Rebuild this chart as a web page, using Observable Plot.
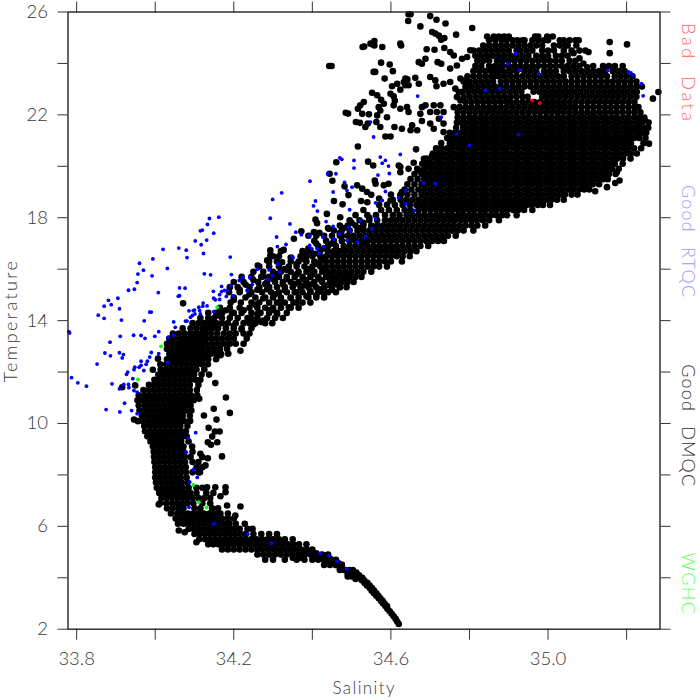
<!DOCTYPE html>
<html><head><meta charset="utf-8">
<style>
html,body{margin:0;padding:0;background:#fff}
svg{display:block}
.wide text{letter-spacing:1.4px}
.wider text{letter-spacing:2.4px}
.legendA text{letter-spacing:2.6px;word-spacing:8px}
.legendB text{letter-spacing:1.2px;word-spacing:8px}
</style>
<script src="https://cdn.jsdelivr.net/npm/d3@7"></script>
<script src="https://cdn.jsdelivr.net/npm/@observablehq/plot@0.6"></script>
</head><body><div id="c"></div>
<script>
const xTicks=[33.8,34.2,34.6,35.0];
const xMinor=[34.0,34.4,34.8,35.2];
const yTicks=[2,6,10,14,18,22,26];
const yMinor=[4,8,12,16,20,24];

const redBad=[[34.96,22.56],[34.979,22.46]];
const greenWGHC=[[34.158,14.52],[33.956,11.71],[34.097,7.61],[34.131,6.74],[34.111,6.94],[34.015,13.0]];
const blueRTQC=[[33.78,13.57],[33.782,13.52],[33.855,14.21],[33.87,14.09],[33.87,14.56],[33.881,14.79],[33.888,14.62],[33.905,14.87],[33.909,14.46],[33.914,14.02],[33.911,13.39],[33.885,13.16],[33.945,13.43],[33.964,13.42],[33.974,13.31],[33.999,13.39],[34.009,13.57],[33.972,13.99],[33.986,14.33],[33.99,14.33],[33.932,15.18],[33.947,15.22],[33.954,15.48],[33.956,15.81],[33.96,16.23],[33.97,15.96],[33.992,15.74],[33.994,16.4],[34.008,15.09],[34.02,16.77],[34.031,16.03],[34.059,14.95],[34.062,14.97],[34.062,15.27],[34.076,15.26],[34.06,16.82],[34.079,16.74],[34.081,16.45],[34.102,17.1],[34.117,16.95],[34.123,16.61],[34.131,17.13],[34.115,17.49],[34.12,17.52],[34.133,17.74],[34.138,17.97],[34.149,17.4],[34.162,18.02],[34.125,15.82],[34.141,15.78],[34.191,16.47],[34.194,15.79],[34.148,15.14],[34.169,15.33],
[34.047,13.95],[34.051,13.74],[34.047,13.44],[34.033,13.35],[34.077,13.98],[34.081,13.98],[34.086,14.38],[34.097,14.39],[34.1,14.41],[34.09,14.13],[34.095,14.2],[34.101,14.26],[34.111,14.52],[34.113,14.39],[34.115,14.26],[34.122,14.68],[34.121,14.56],[34.132,14.57],[34.149,14.35],[34.149,14.87],[34.153,14.81],[34.164,14.82],[34.164,15.01],[34.169,15.13],[34.176,15.17],[34.183,15.17],[34.181,14.94],[34.198,14.96],[34.192,15.36],
[34.293,17.98],[34.299,18.71],[34.322,18.97],[34.309,17.25],[34.311,16.88],[34.343,17.76],[34.358,17.44],[34.372,17.34],[34.333,16.96],[34.349,16.5],[34.351,16.44],[34.26,16.0],[34.29,15.97],[34.287,15.6],[34.298,15.75],[34.312,16.2],[34.317,15.88],[34.222,15.69],[34.214,15.56],[34.241,15.69],[34.247,15.4],[34.234,15.17],
[34.394,19.42],[34.403,18.46],[34.408,18.65],[34.413,18.26],[34.392,17.3],[34.393,16.92],[34.399,16.79],[34.412,16.79],[34.417,16.62],[34.427,17.25],[34.435,17.85],[34.429,16.88],[34.453,19.0],[34.439,19.71],[34.46,19.71],[34.47,20.33],[34.475,20.27],[34.482,19.37],[34.488,19.06],[34.495,18.31],[34.454,17.17],[34.453,17.66],[34.47,17.37],[34.488,17.12],[34.492,17.63],
[33.787,11.78],[33.803,11.58],[33.825,11.45],[33.852,12.31],[33.872,12.74],[33.886,12.63],[33.909,12.75],[33.919,12.68],[33.916,12.55],[33.89,11.54],[33.909,11.35],[33.92,11.52],[33.932,11.52],[33.933,11.39],[33.943,11.74],[33.927,11.91],[33.93,12.0],[33.946,12.09],[33.948,12.19],[33.959,12.19],[33.964,12.26],[33.964,12.42],[33.977,12.3],[33.98,12.42],[33.971,12.06],[33.986,12.58],[33.99,12.76],[34.009,12.71],[34.032,12.37],[33.922,10.79],[33.875,10.54],[33.91,10.45],[33.94,10.5],[33.946,11.28],[33.954,11.22],[33.954,10.38],[34.103,9.64],[34.084,9.43],[34.079,8.88],[34.097,8.2],[34.088,7.72],[34.107,7.9],[34.086,6.74],[34.149,6.1],[34.236,5.7],[34.296,5.34],[34.42,4.95],[34.442,4.86],[34.463,4.64],[34.488,4.34],
[34.668,22.73],[35.205,23.67],[35.211,23.63],[35.216,23.54],[35.238,23.21],[35.242,22.74],[35.152,23.73],[34.976,23.6],[34.928,23.73],[34.898,23.99],[34.917,24.38],[34.624,20.46],[34.573,20.36],[34.586,20.23],[34.578,20.12],[34.594,20.01],[34.596,19.72],[34.506,20.23],[34.506,19.93],[34.567,19.66],[34.548,21.72],[34.556,21.14],[34.638,19.05],[34.586,19.02],[34.501,19.19],[34.561,18.58],[34.578,18.67],[34.62,18.78],[34.637,18.54],[34.66,18.28],[34.684,19.35],[34.713,19.32],[34.497,17.5],[34.536,17.27],[34.514,17.05],[34.522,17.89],[34.561,17.96],[34.552,17.57],[34.8,20.81],[34.767,21.27],[34.728,21.91],[34.925,21.23],[34.84,22.95],[34.878,23.02]];

const blackSparse=[[34.645,25.91],[34.644,25.65],[34.65,25.91],[34.7,25.84],[34.716,25.7],[34.739,25.55],[34.675,25.44],[34.807,25.38],[34.705,25.22],[34.713,25.16],[34.722,25.08],[34.736,24.99],[34.728,24.92],[34.766,25.12],[34.528,24.64],[34.532,24.66],[34.548,24.77],[34.558,24.87],[34.558,24.7],[34.552,24.75],[34.578,24.64],[34.624,24.77],[34.626,24.7],[34.691,24.55],[34.711,24.53],[34.736,24.6],[34.575,24.03],[34.597,23.96],[34.556,23.67],[34.56,23.67],[34.605,23.7],[34.584,23.41],[34.637,23.41],[34.642,23.38],[34.662,23.44],[34.671,23.21],[34.633,23.28],[34.616,23.21],[34.603,23.11],[34.624,22.98],[34.637,23.15],[34.645,23.15],[34.599,22.82],[34.607,22.72],[34.552,22.86],[34.565,22.76],[34.575,22.59],[34.582,22.43],[34.569,22.3],[34.531,22.5],[34.522,22.37],[34.516,22.24],[34.527,22.04],[34.544,22.02],[34.565,21.98],[34.573,22.17],[34.59,21.91],[34.511,21.72],[34.521,21.69],[34.535,21.53],[34.541,21.66],[34.563,21.72],[34.573,21.53],[34.609,21.53],[34.628,21.46],[34.586,21.16],[34.599,21.16],[34.516,20.77],[34.664,20.66],[34.607,22.37],[34.624,22.24],[34.641,22.3],[34.645,22.11],[34.61,22.55],[34.542,20.18],[34.555,20.03],[34.654,21.59],[34.65,21.4],[34.667,21.4],[34.679,22.3],[34.688,22.37],[34.675,22.04],[34.709,22.37],[34.726,22.37],[34.7,22.11],[34.717,22.11],[34.734,22.11],[34.679,21.76],[34.7,21.66],[34.722,21.85],[34.734,21.66],[34.709,21.46],[34.734,21.33],[34.751,21.14],[34.671,24.05],[34.679,23.99],[34.688,24.18],[34.719,24.05],[34.728,23.99],[34.751,24.44],[34.76,24.31],[34.751,23.8],[34.768,23.92],[34.781,24.18],[34.794,24.25],[34.802,24.51],[34.7,23.47],[34.713,23.34],[34.716,23.11],[34.734,23.21],[34.751,23.28],[34.764,23.02],[34.777,23.41],[34.79,23.34],[34.794,23.08],[34.773,22.89],[34.768,22.69],[34.777,22.56],[34.76,22.3],
[35.157,24.83],[35.201,24.74],[35.157,24.4],[35.103,24.44],[35.281,22.89],[35.267,22.63],[35.257,20.88],[35.247,21.78],[35.175,19.77],[35.171,19.35],[35.182,19.45],[35.15,19.19],[35.12,19.03],[35.133,19.51],[35.239,23.1],
[34.443,23.9],[34.449,23.9],[34.485,22.08],[34.491,22.05],[34.461,20.16],[34.444,19.71],[34.451,19.44],[34.455,18.65],[34.477,18.52],[34.482,19.22],[34.492,18.88],[34.437,18.15],[34.471,18.02],[34.408,17.93],[34.412,17.79],[34.372,17.47],[34.353,17.18],[34.404,17.44],[34.418,17.41],[34.442,17.57],[34.327,16.75],[34.293,16.73],[34.293,16.53],[34.285,16.34],[34.261,16.14],[34.323,16.27],[34.514,19.26],[34.527,19.13],[34.539,19.0],[34.55,18.89],[34.524,18.65],[34.559,19.45],[34.561,19.32],[34.624,19.97],[34.624,19.77],[34.645,19.9],[34.671,19.84],[34.594,19.32],[34.628,19.0],[34.624,18.87],[34.599,18.67],[34.582,19.26],[34.658,20.14],[34.684,20.29],[34.705,20.42],[34.722,20.62],[34.751,20.75],[34.62,20.03],[34.071,14.67],
[34.153,11.57],[34.18,11.01],[34.112,10.96],[34.149,10.57],[34.19,10.41],[34.124,10.31],[34.156,10.15],[34.136,9.83],[34.164,9.69],[34.152,9.69],[34.145,9.49],[34.158,9.27],[34.134,9.27],[34.142,9.17],[34.17,8.72],[34.134,8.65],[34.115,8.82],[34.12,8.69],[34.128,8.37],[34.12,8.3],[34.114,8.1],[34.179,7.52],[34.153,7.52],[34.132,7.52],[34.166,7.17],[34.179,7.33],[34.217,6.77],[34.183,6.81],[34.204,6.42],[34.06,5.84],[34.075,5.77],[34.105,5.38],[34.009,6.85],[33.946,10.15],[33.956,10.09],[33.916,11.41],[33.949,11.48],[33.994,12.09],[34.007,12.52],[34.137,11.9],[34.186,12.71],[34.166,12.65],[34.217,12.83]];

const blackBandFill=[[34.2,14.8],[34.215,15.2],[34.24,15.02],[34.255,14.62],[34.275,14.86],[34.285,15.22],[34.3,14.42],[34.305,15.02],[34.32,14.72],[34.33,15.18],[34.34,14.52],[34.345,14.88],[34.36,15.1],[34.36,14.7],[34.375,15.35],[34.385,14.95],[34.395,15.15],[34.4,15.42],[34.41,14.98],[34.42,15.22],[34.43,15.05],[34.44,15.38],[34.45,15.2],[34.46,15.42],[34.47,15.3],[34.485,15.52],[34.26,15.2],[34.23,15.4],[34.25,15.58],[34.28,15.42],[34.275,15.72],[34.3,15.62],[34.325,15.42],[34.31,15.82],[34.335,15.62],[34.355,15.42],[34.335,15.98],[34.36,15.8],[34.38,15.6],[34.4,15.78],[34.42,15.6],[34.39,16.0],[34.41,16.2],[34.44,15.8],[34.43,16.0],[34.455,15.6],[34.47,15.85],[34.49,15.75],[34.36,16.2],[34.38,16.38],[34.33,16.0],[34.345,16.45],[34.38,16.6],[34.405,16.6],[34.43,16.4],[34.39,16.8],[34.41,17.0],[34.43,16.8],[34.46,16.6],[34.45,17.0],[34.475,17.3],[34.5,17.2],[34.53,17.0],[34.47,17.4],[34.44,17.6],[34.48,17.6],[34.52,17.6],[34.5,17.8],[34.53,17.8],[34.545,18.0],[34.51,18.1],[34.53,18.3],[34.57,18.5],[34.6,18.9],[34.54,18.6],[34.57,18.75],[34.14,14.02],[34.16,14.2],[34.18,14.4],[34.2,14.3],[34.225,14.4],[34.245,14.08],[34.26,14.25],[34.275,14.0],[34.29,14.4],[34.31,14.25],[34.2,13.8],[34.22,13.65],[34.24,13.9],[34.25,13.85],[34.27,13.95]];
const blackTailFill=[[34.49,4.15],[34.48,4.3],[34.47,4.4],[34.46,4.5],[34.45,4.6],[34.44,4.65],[34.43,4.72],[34.42,4.8],[34.41,4.8],[34.475,4.5],[34.465,4.58],[34.455,4.67],[34.445,4.75],[34.43,4.85],[34.41,4.95],[34.39,4.95],[34.37,4.78],[34.35,4.78],[34.37,5.0],[34.49,4.05],[34.5,4.05],[34.51,3.95]];
const blackMassFill=[[34.855,23.5],[34.845,23.3],[34.86,23.3],[34.865,23.5],[34.895,22.5],[34.905,22.5],[34.895,22.3],[34.88,22.3],[34.963,22.9],[34.848,20.9],[34.904,20.9],[35.044,22.3],[34.92,24.5],[34.92,24.3],[34.9,23.9],[34.92,23.7],[35.02,24.1],[35.02,23.9],[35.04,24.5],[35.045,24.7],[34.94,24.9],[35.015,24.7],[34.905,23.7],[34.885,23.9],[35.05,24.3],[35.065,24.4],[35.08,24.2],[35.09,24.0],[35.1,23.85],[35.115,23.9]];

const blackUpperRows=[
[25.05,34.845,34.862,34.875,34.888,34.9,34.967,34.975,34.998,35.012],
[24.9,34.85,34.866,34.882,34.895,34.91,34.922,34.935,34.96,34.975,34.99,35.0,35.03,35.04,35.055,35.07,35.078],
[24.7,34.835,34.85,34.865,34.88,34.895,34.91,34.925,34.94,34.955,34.97,34.985,35.03,35.05,35.072],
[24.5,34.81,34.825,34.84,34.855,34.87,34.885,34.9,34.93,34.945,34.96,34.985,35.0,35.015,35.06,35.08,35.095],
[24.3,34.815,34.83,34.845,34.86,34.875,34.89,34.905,34.935,34.95,34.97,34.985,35.0,35.02,35.035],
[24.1,34.82,34.835,34.85,34.87,34.885,34.9,34.915,34.93,34.945,34.96,34.975,34.99,35.005,35.035,35.055,35.07],
[23.9,34.815,34.83,34.85,34.865,34.88,34.915,34.93,34.945,34.96,34.975,34.99,35.005,35.035,35.05,35.065,35.08,35.14,35.155,35.17,35.19],
[23.7,34.81,34.825,34.84,34.855,34.87,34.885,34.9,34.94,34.955,34.97,34.99,35.005,35.02,35.04,35.055,35.07,35.085,35.1,35.115,35.13,35.145,35.165,35.18,35.195],
[23.5,34.795,34.81,34.825,34.84,34.875,34.89,34.905,34.92,34.935,34.95,34.965,34.98,34.995,35.01,35.025,35.04,35.06,35.075,35.09,35.105,35.12,35.135,35.15,35.17,35.185,35.2,35.215],
[23.3,34.785,34.8,34.815,34.83,34.88,34.895,34.91,34.925,34.94,34.955,34.97,34.985,35.0,35.015,35.03,35.045,35.06,35.075,35.09,35.105,35.12,35.135,35.15,35.165,35.18,35.195,35.21,35.225],
[23.1,34.79,34.805,34.82,34.835,34.85,34.865,34.88,34.895,34.91,34.925,34.94,34.955,34.97,34.985,35.0,35.015,35.03,35.045,35.06,35.075,35.09,35.105,35.12,35.135,35.15,35.165,35.18,35.195,35.21,35.225],
[22.9,34.782,34.797,34.812,34.827,34.842,34.857,34.872,34.887,34.902,34.917,34.932,34.978,34.993,35.008,35.023,35.038,35.053,35.068,35.083,35.098,35.113,35.128,35.143,35.158,35.173,35.188,35.203,35.218,35.226],
[22.7,34.785,34.8,34.815,34.83,34.845,34.86,34.875,34.89,34.905,34.92,34.935,34.948,34.985,35.0,35.015,35.03,35.045,35.06,35.075,35.09,35.105,35.12,35.135,35.15,35.165,35.18,35.195,35.21,35.225],
[22.5,34.79,34.805,34.82,34.835,34.85,34.865,34.88,34.92,34.935,34.95,34.965,34.98,34.995,35.01,35.025,35.04,35.055,35.07,35.085,35.1,35.115,35.13,35.145,35.16,35.175,35.19,35.205,35.22],
[22.3,34.775,34.79,34.805,34.82,34.835,34.85,34.865,34.91,34.925,34.94,34.955,34.97,34.985,35.0,35.015,35.03,35.058,35.07,35.085,35.1,35.115,35.13,35.145,35.16,35.175,35.19,35.205,35.22,35.23],
[22.1,34.77,34.785,34.8,34.815,34.83,34.845,34.86,34.875,34.89,34.905,34.92,34.935,34.95,34.965,34.98,34.995,35.01,35.025,35.04,35.055,35.07,35.085,35.1,35.115,35.13,35.145,35.16,35.175,35.19,35.205,35.22,35.235]];

const blackMassRows=[
[21.9,34.77,34.784,34.799,34.812,34.827,34.84,34.855,34.868,34.883,34.896,34.911,34.924,34.939,34.952,34.967,34.98,34.995,35.008,35.023,35.036,35.051,35.064,35.079,35.092,35.107,35.12,35.135,35.148,35.163,35.176,35.191,35.204,35.219,35.232,35.245],
[21.7,34.768,34.778,34.791,34.806,34.819,34.834,34.847,34.862,34.875,34.89,34.903,34.918,34.931,34.946,34.959,34.974,34.987,35.002,35.015,35.03,35.043,35.058,35.071,35.086,35.099,35.114,35.127,35.142,35.155,35.17,35.183,35.198,35.211,35.226,35.239,35.256],
[21.5,34.766,34.784,34.799,34.812,34.827,34.84,34.855,34.868,34.883,34.896,34.911,34.924,34.939,34.952,34.967,34.98,34.995,35.008,35.023,35.036,35.051,35.064,35.079,35.092,35.107,35.12,35.135,35.148,35.163,35.176,35.191,35.204,35.219,35.232,35.247,35.255],
[21.3,34.75,34.763,34.778,34.791,34.806,34.819,34.834,34.847,34.862,34.875,34.89,34.903,34.918,34.931,34.946,34.959,34.974,34.987,35.002,35.015,35.03,35.043,35.058,35.071,35.086,35.099,35.114,35.127,35.142,35.155,35.17,35.183,35.198,35.211,35.226,35.239,35.25],
[21.1,34.743,34.756,34.771,34.784,34.799,34.812,34.827,34.84,34.855,34.868,34.883,34.896,34.911,34.924,34.939,34.952,34.967,34.98,34.995,35.008,35.023,35.036,35.051,35.064,35.079,35.092,35.107,35.12,35.135,35.148,35.163,35.176,35.191,35.204,35.219,35.232,35.248],
[20.9,34.728,34.75,34.763,34.778,34.791,34.806,34.819,34.834,34.862,34.875,34.89,34.918,34.931,34.946,34.959,34.974,34.987,35.002,35.015,35.03,35.043,35.058,35.071,35.086,35.099,35.114,35.127,35.142,35.155,35.17,35.183,35.198,35.211,35.243],
[20.7,34.715,34.728,34.743,34.756,34.771,34.784,34.799,34.812,34.827,34.84,34.855,34.868,34.883,34.896,34.911,34.924,34.939,34.952,34.967,34.98,34.995,35.008,35.023,35.036,35.051,35.064,35.079,35.092,35.107,35.12,35.135,35.148,35.163,35.176,35.191,35.204,35.219,35.237],
[20.5,34.707,34.722,34.735,34.75,34.763,34.778,34.791,34.806,34.819,34.834,34.847,34.862,34.875,34.89,34.903,34.918,34.931,34.946,34.959,34.974,34.987,35.002,35.015,35.03,35.043,35.058,35.071,35.086,35.099,35.114,35.127,35.142,35.155,35.17,35.183,35.198,35.211,35.226],
[20.3,34.69,34.7,34.715,34.728,34.743,34.756,34.771,34.784,34.799,34.812,34.827,34.84,34.855,34.868,34.883,34.896,34.911,34.924,34.939,34.952,34.967,34.98,34.995,35.008,35.023,35.036,35.051,35.064,35.079,35.092,35.107,35.12,35.135,35.148,35.163,35.176,35.191,35.21],
[20.1,34.68,34.693,34.707,34.722,34.735,34.75,34.763,34.778,34.791,34.806,34.819,34.834,34.847,34.862,34.875,34.89,34.903,34.918,34.931,34.946,34.959,34.974,34.987,35.002,35.015,35.03,35.043,35.058,35.071,35.086,35.099,35.114,35.127,35.142,35.155,35.17,35.19],
[19.9,34.667,34.685,34.7,34.715,34.728,34.743,34.756,34.771,34.784,34.799,34.812,34.827,34.84,34.855,34.868,34.883,34.896,34.911,34.924,34.939,34.952,34.967,34.98,34.995,35.008,35.023,35.036,35.051,35.064,35.079,35.092,35.107,35.12,35.135,35.148,35.163,35.18],
[19.7,34.66,34.678,34.692,34.707,34.722,34.735,34.75,34.763,34.778,34.791,34.806,34.819,34.834,34.847,34.862,34.875,34.89,34.903,34.918,34.931,34.946,34.959,34.974,34.987,35.002,35.015,35.03,35.043,35.058,35.071,35.086,35.099,35.114,35.127,35.142,35.155,35.172],
[19.5,34.65,34.668,34.685,34.7,34.715,34.728,34.743,34.756,34.771,34.784,34.799,34.812,34.827,34.84,34.855,34.868,34.883,34.896,34.911,34.924,34.939,34.952,34.967,34.98,34.995,35.008,35.023,35.036,35.051,35.064,35.079,35.092,35.107,35.12,35.14,35.152],
[19.3,34.642,34.66,34.678,34.692,34.707,34.722,34.735,34.75,34.763,34.778,34.791,34.806,34.819,34.834,34.847,34.862,34.875,34.89,34.903,34.918,34.931,34.946,34.959,34.974,34.987,35.002,35.015,35.03,35.043,35.058,35.071,35.086,35.099,35.114,35.13],
[19.1,34.635,34.652,34.67,34.685,34.7,34.715,34.728,34.743,34.756,34.771,34.784,34.799,34.812,34.827,34.84,34.855,34.868,34.883,34.896,34.911,34.924,34.939,34.952,34.967,34.98,34.995,35.008,35.023,35.036,35.051,35.064,35.079,35.092,35.105],
[18.9,34.625,34.642,34.66,34.678,34.692,34.707,34.722,34.735,34.75,34.763,34.778,34.791,34.806,34.819,34.834,34.847,34.862,34.875,34.89,34.903,34.918,34.931,34.946,34.959,34.974,34.987,35.002,35.015,35.03,35.043,35.06,35.075],
[18.7,34.605,34.625,34.64,34.655,34.67,34.685,34.7,34.715,34.728,34.743,34.756,34.771,34.784,34.799,34.812,34.827,34.84,34.855,34.868,34.883,34.896,34.911,34.924,34.939,34.952,34.967,34.98,34.995,35.008,35.023,35.04],
[18.5,34.59,34.61,34.63,34.648,34.665,34.678,34.692,34.707,34.722,34.735,34.75,34.763,34.778,34.791,34.806,34.819,34.834,34.847,34.862,34.875,34.89,34.903,34.918,34.931,34.946,34.959,34.974,34.987,35.005],
[18.3,34.575,34.595,34.615,34.635,34.65,34.67,34.685,34.7,34.715,34.728,34.743,34.756,34.771,34.784,34.799,34.812,34.827,34.84,34.855,34.868,34.883,34.896,34.911,34.924,34.939,34.96],
[18.1,34.54,34.562,34.585,34.605,34.622,34.64,34.655,34.67,34.685,34.7,34.715,34.728,34.743,34.756,34.771,34.784,34.799,34.812,34.827,34.84,34.855,34.868,34.883,34.896,34.92],
[17.9,34.495,34.52,34.545,34.565,34.585,34.6,34.615,34.63,34.645,34.66,34.675,34.69,34.705,34.72,34.735,34.75,34.763,34.778,34.791,34.806,34.819,34.834,34.85,34.875],
[17.7,34.47,34.49,34.51,34.53,34.55,34.565,34.58,34.595,34.61,34.625,34.64,34.655,34.67,34.685,34.7,34.715,34.73,34.745,34.76,34.775,34.79,34.805,34.82,34.84],
[17.5,34.455,34.475,34.495,34.515,34.53,34.545,34.56,34.575,34.59,34.605,34.62,34.635,34.65,34.665,34.68,34.695,34.71,34.725,34.74,34.755,34.77,34.785,34.81],
[17.3,34.39,34.41,34.43,34.45,34.47,34.49,34.505,34.52,34.535,34.55,34.565,34.58,34.595,34.61,34.625,34.64,34.655,34.67,34.685,34.7,34.715,34.73,34.745,34.765],
[17.1,34.405,34.435,34.455,34.475,34.495,34.51,34.525,34.54,34.555,34.57,34.585,34.6,34.615,34.63,34.645,34.66,34.675,34.69,34.705,34.72,34.735],
[16.9,34.415,34.44,34.46,34.48,34.495,34.51,34.525,34.54,34.555,34.57,34.585,34.6,34.615,34.63,34.645,34.66,34.675,34.695],
[16.7,34.32,34.375,34.395,34.42,34.44,34.455,34.47,34.485,34.5,34.515,34.53,34.545,34.56,34.575,34.59,34.605,34.62,34.635,34.65,34.665],
[16.5,34.3,34.315,34.37,34.385,34.4,34.42,34.435,34.45,34.465,34.48,34.495,34.51,34.525,34.54,34.555,34.57,34.585,34.6,34.615,34.63,34.648],
[16.3,34.29,34.31,34.345,34.365,34.385,34.405,34.42,34.435,34.45,34.465,34.48,34.495,34.51,34.525,34.54,34.555,34.57,34.585,34.6,34.628],
[16.1,34.265,34.29,34.315,34.34,34.36,34.38,34.4,34.42,34.435,34.45,34.465,34.48,34.495,34.51,34.525,34.54,34.555,34.57,34.59],
[15.9,34.25,34.275,34.3,34.32,34.345,34.365,34.385,34.405,34.425,34.44,34.455,34.47,34.485,34.5,34.515,34.53,34.55],
[15.7,34.22,34.245,34.27,34.29,34.315,34.335,34.355,34.375,34.395,34.415,34.435,34.45,34.465,34.48,34.495,34.51,34.525],
[15.5,34.2,34.225,34.262,34.285,34.305,34.325,34.345,34.365,34.385,34.405,34.425,34.445,34.46,34.475,34.49,34.505],
[15.3,34.19,34.21,34.24,34.265,34.29,34.31,34.33,34.35,34.37,34.39,34.41,34.43,34.45,34.47,34.487],
[15.1,34.188,34.215,34.245,34.272,34.295,34.315,34.335,34.355,34.375,34.395,34.415,34.44,34.46],
[14.9,34.2,34.23,34.255,34.28,34.3,34.32,34.345,34.365,34.39,34.41,34.43],
[14.7,34.192,34.218,34.245,34.265,34.29,34.31,34.33,34.352,34.375,34.395],
[14.5,34.165,34.19,34.215,34.24,34.26,34.28,34.3,34.32,34.345,34.365],
[14.3,34.135,34.155,34.17,34.195,34.22,34.245,34.268,34.29,34.31,34.335],
[14.1,34.115,34.135,34.15,34.17,34.19,34.21,34.235,34.26,34.285,34.305,34.325],
[13.9,34.095,34.11,34.125,34.14,34.155,34.17,34.185,34.205,34.225,34.255,34.28,34.298],
[13.7,34.07,34.09,34.105,34.12,34.133,34.147,34.16,34.18,34.2,34.22,34.245],
[13.5,34.045,34.06,34.075,34.09,34.102,34.115,34.128,34.142,34.158,34.175,34.19,34.205,34.225,34.24],
[13.3,34.036,34.05,34.065,34.078,34.09,34.103,34.115,34.128,34.142,34.155,34.17,34.185,34.2,34.233],
[13.1,34.03,34.045,34.058,34.07,34.082,34.094,34.106,34.118,34.13,34.145,34.16,34.175,34.19,34.205,34.225]];

const blackLimbRows=[
[12.9,34.03,34.043,34.056,34.069,34.082,34.095,34.108,34.121,34.136,34.15,34.165,34.183],
[12.7,34.036,34.05,34.063,34.076,34.089,34.102,34.115,34.128,34.141,34.155,34.168],
[12.5,34.03,34.043,34.056,34.069,34.082,34.095,34.108,34.121,34.135,34.155],
[12.3,34.013,34.028,34.041,34.054,34.067,34.08,34.093,34.106,34.119,34.134],
[12.1,34.014,34.027,34.04,34.053,34.066,34.079,34.092,34.105,34.125],
[11.9,34.008,34.021,34.034,34.047,34.06,34.073,34.086,34.099,34.118],
[11.7,33.998,34.011,34.024,34.037,34.05,34.063,34.076,34.089,34.102,34.115],
[11.5,33.984,33.997,34.01,34.023,34.036,34.049,34.062,34.075,34.088,34.11],
[11.3,33.97,33.984,33.997,34.01,34.023,34.036,34.049,34.062,34.075,34.088,34.106],
[11.1,33.958,33.973,33.987,34.0,34.013,34.026,34.039,34.052,34.065,34.078,34.091,34.107],
[10.9,33.955,33.968,33.981,33.994,34.007,34.02,34.033,34.046,34.059,34.072,34.085,34.098],
[10.7,33.958,33.973,33.986,33.999,34.012,34.025,34.038,34.051,34.064,34.077,34.09],
[10.5,33.96,33.974,33.987,34.0,34.013,34.026,34.039,34.052,34.065,34.078,34.092],
[10.3,33.966,33.979,33.992,34.005,34.018,34.031,34.044,34.057,34.07,34.088],
[10.1,33.968,33.982,33.995,34.008,34.021,34.034,34.047,34.06,34.073,34.089],
[9.9,33.972,33.986,33.999,34.012,34.025,34.038,34.051,34.064,34.082],
[9.7,33.974,33.988,34.001,34.014,34.027,34.04,34.053,34.066,34.078],
[9.5,33.98,33.993,34.006,34.019,34.032,34.045,34.058,34.071,34.08],
[9.3,33.988,34.001,34.014,34.027,34.04,34.053,34.066,34.085],
[9.1,33.994,34.007,34.02,34.033,34.046,34.059,34.072,34.094],
[8.9,33.996,34.009,34.022,34.035,34.048,34.061,34.072,34.095],
[8.7,33.997,34.01,34.023,34.036,34.049,34.062,34.075,34.09],
[8.5,33.998,34.011,34.024,34.037,34.05,34.063,34.076,34.095,34.11],
[8.3,34.0,34.013,34.026,34.039,34.052,34.065,34.078,34.105],
[8.1,34.0,34.013,34.026,34.039,34.052,34.065,34.078,34.095,34.11],
[7.9,34.0,34.013,34.026,34.039,34.052,34.065,34.08],
[7.7,34.002,34.015,34.028,34.041,34.054,34.067,34.082],
[7.5,34.004,34.018,34.031,34.044,34.057,34.07,34.085,34.105,34.12],
[7.3,34.01,34.024,34.037,34.05,34.063,34.076,34.089,34.105,34.13,34.148],
[7.1,34.016,34.03,34.043,34.056,34.069,34.082,34.095,34.11,34.125,34.14],
[6.9,34.012,34.028,34.043,34.056,34.069,34.082,34.097,34.12,34.14],
[6.7,34.03,34.045,34.06,34.072,34.1,34.115,34.145,34.16],
[6.5,34.04,34.056,34.07,34.083,34.096,34.11,34.124,34.138,34.152,34.166,34.185],
[6.3,34.052,34.066,34.079,34.092,34.105,34.118,34.131,34.144,34.157,34.17,34.185,34.2],
[6.1,34.058,34.072,34.085,34.098,34.111,34.124,34.137,34.15,34.163,34.176,34.189,34.205,34.228],
[5.9,34.085,34.098,34.111,34.124,34.137,34.15,34.163,34.176,34.189,34.202,34.215,34.235,34.248],
[5.7,34.1,34.113,34.126,34.139,34.152,34.165,34.178,34.191,34.204,34.217,34.23,34.25,34.27,34.29,34.31],
[5.5,34.112,34.127,34.14,34.153,34.166,34.179,34.192,34.205,34.218,34.231,34.244,34.258,34.272,34.286,34.3,34.315,34.33,34.35],
[5.3,34.135,34.148,34.161,34.174,34.187,34.2,34.213,34.226,34.24,34.254,34.268,34.282,34.296,34.31,34.324,34.338,34.352,34.366,34.385],
[5.1,34.17,34.185,34.2,34.215,34.23,34.245,34.26,34.274,34.288,34.302,34.316,34.33,34.344,34.358,34.372,34.386,34.4],
[4.9,34.26,34.275,34.29,34.305,34.32,34.335,34.35,34.365,34.38,34.395,34.41,34.425,34.44],
[4.7,34.28,34.3,34.33,34.36,34.38,34.4,34.415,34.43,34.445,34.46],
[4.5,34.43,34.445,34.46,34.475],
[4.3,34.47,34.485,34.495,34.503],
[4.2,34.503,34.512],[4.1,34.512,34.519],[4.0,34.518,34.527],[3.9,34.526,34.532],[3.8,34.533,34.54],[3.7,34.539,34.546],[3.6,34.546,34.552],[3.5,34.551,34.557],[3.4,34.557,34.563],[3.3,34.563,34.568],[3.2,34.569,34.573],[3.1,34.575,34.579],[3.0,34.58,34.584],[2.9,34.586,34.59],[2.8,34.591],[2.7,34.597],[2.6,34.602],[2.5,34.607],[2.4,34.612],[2.3,34.616],[2.2,34.62]];

const rowsToPairs=rows=>rows.flatMap(([t,...s])=>s.map(v=>[v,t]));
const black=[...blackSparse,...blackBandFill,...blackTailFill,...blackMassFill,...rowsToPairs(blackUpperRows),...rowsToPairs(blackMassRows),...rowsToPairs(blackLimbRows)];
const font="Lato, 'Open Sans', sans-serif";
const labelColor="#383838";
const legendS=35.356;

const chart=Plot.plot({
  width:700,height:700,marginLeft:67.5,marginRight:40.5,marginTop:11.5,marginBottom:71.3,
  style:{background:"#fff",fontFamily:font},
  x:{domain:[33.778,35.285]},
  y:{domain:[2,26]},
  marks:[
    Plot.dot(black,{x:d=>d[0],y:d=>d[1],r:3.3,fill:"#000"}),
    Plot.dot(blueRTQC,{x:d=>d[0],y:d=>d[1],r:1.9,fill:"#0000ff"}),
    Plot.dot(greenWGHC,{x:d=>d[0],y:d=>d[1],r:1.9,fill:"#00ff00"}),
    Plot.dot(redBad,{x:d=>d[0],y:d=>d[1],r:1.9,fill:"#ff0000"}),
    Plot.axisX({anchor:"bottom",ticks:xTicks,tickSize:11,tickPadding:12,tickFormat:d3.format(".1f"),fontSize:18.5,fontWeight:300,color:labelColor,label:null,stroke:"#333"}),
    Plot.axisX({anchor:"bottom",ticks:xMinor,tickSize:11,tickFormat:()=>"",label:null,stroke:"#333"}),
    Plot.axisX({anchor:"top",ticks:[...xTicks,...xMinor],tickSize:11,tickFormat:()=>"",label:null,stroke:"#333"}),
    Plot.axisY({anchor:"left",ticks:yTicks,tickSize:10,tickPadding:10,tickFormat:d3.format("d"),fontSize:18.5,fontWeight:300,color:labelColor,label:null,stroke:"#333"}),
    Plot.axisY({anchor:"left",ticks:yMinor,tickSize:10,tickFormat:()=>"",label:null,stroke:"#333"}),
    Plot.axisY({anchor:"right",ticks:[...yTicks,...yMinor],tickSize:10,tickFormat:()=>"",label:null,stroke:"#333"}),
    Plot.frame({stroke:"#222",strokeWidth:1.4}),
    Plot.text(["Salinity"],{x:[34.532],y:[2],dy:59,text:d=>d,fontSize:17,fontWeight:300,fill:labelColor,className:"wide"}),
    Plot.text(["Temperature"],{x:[33.778],y:[14.0],dx:-57,rotate:-90,text:d=>d,fontSize:18,fontWeight:300,fill:labelColor,className:"wider"}),
    Plot.text(["Bad Data"],{x:[legendS],y:[23.61],text:d=>d,fill:"#ff6060",rotate:90,fontSize:18,fontWeight:300,className:"legendA"}),
    Plot.text(["Good RTQC"],{x:[legendS],y:[17.07],text:d=>d,fill:"#9a9aff",rotate:90,fontSize:18,fontWeight:300,className:"legendB"}),
    Plot.text(["Good DMQC"],{x:[legendS],y:[9.91],text:d=>d,fill:"#303030",rotate:90,fontSize:18,fontWeight:300,className:"legendB"}),
    Plot.text(["WGHC"],{x:[legendS],y:[3.76],text:d=>d,fill:"#60ff60",rotate:90,fontSize:18,fontWeight:300,className:"wide"})
  ]
});
document.getElementById("c").appendChild(chart);
</script></body></html>
